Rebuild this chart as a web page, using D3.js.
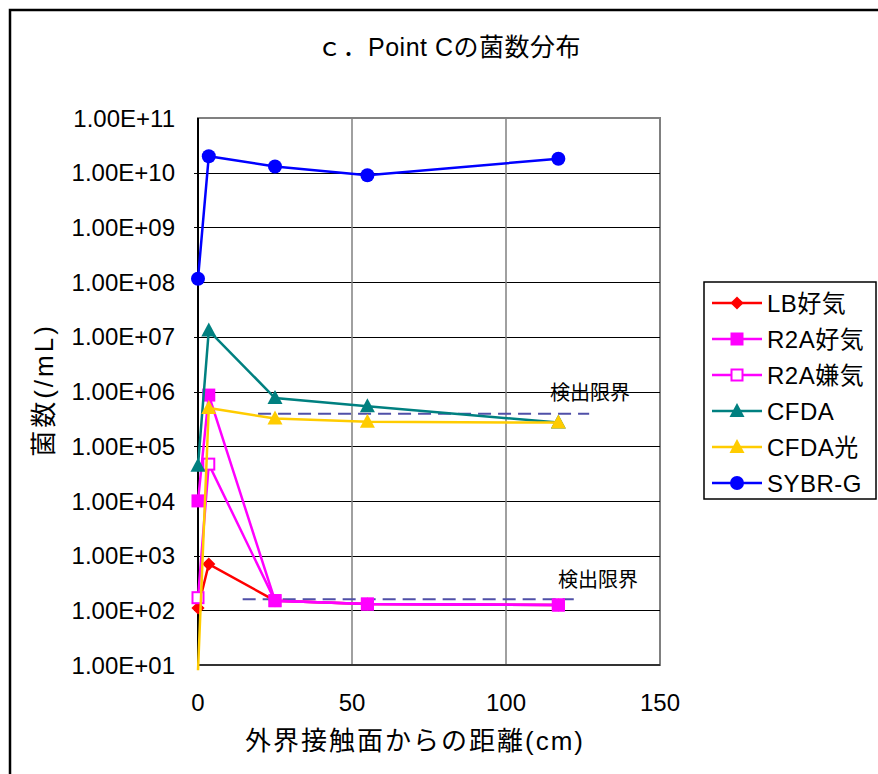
<!DOCTYPE html>
<html>
<head>
<meta charset="utf-8">
<script src="https://cdn.jsdelivr.net/npm/d3@7"></script>
<style>
  body { margin: 0; background: #fff; }
  text { font-family: 'Liberation Sans', Arial, 'Noto Sans CJK JP', sans-serif; }
</style>
</head>
<body>
<script>
// variables:
var w = 878
var h = 774
var margin = { left: 198, top: 118, right: 218, bottom: 109 }

// data
var distances = [0, 3.5, 25, 55, 117]
var lbAerobic = [110, 700, 150, 130, 125]
var r2aAerobic = [10000, 860000, 150, 130, 125]
var r2aAnaerobic = [170, 47000, 150, 130, 125]
var cfda = [44000, 13000000, 760000, 540000, 270000]
var cfdaLight = [8, 500000, 320000, 280000, 270000]
var sybrG = [115000000, 20000000000, 13000000000, 9000000000, 18000000000]

var seriesNames = ['LB好気', 'R2A好気', 'R2A嫌気', 'CFDA', 'CFDA光', 'SYBR-G']
var seriesValues = [lbAerobic, r2aAerobic, r2aAnaerobic, cfda, cfdaLight, sybrG]
var seriesColors = ['#ff0000', '#ff00ff', '#ff00ff', '#008080', '#ffcc00', '#0000ff']
var seriesMarkers = ['diamond', 'square', 'squareOpen', 'triangle', 'triangle', 'circle']
// drawing order (filled R2A squares sit on top of the open ones)
var drawOrder = [0, 2, 1, 3, 4, 5]

var yTicks = [1e1, 1e2, 1e3, 1e4, 1e5, 1e6, 1e7, 1e8, 1e9, 1e10, 1e11]
var xTicks = [0, 50, 100, 150]

// detection limits: [value, xStart, xEnd]
var limitUpper = [390000, 19.5, 127]
var limitLower = [160, 14.5, 122]
var limitLabel = '検出限界'

var svg = d3.select('body')
  .append('svg')
  .attr('width', w)
  .attr('height', h)

// outer frame
svg.append('rect')
  .attr('x', 10).attr('y', 10)
  .attr('width', 900).attr('height', 800)
  .attr('fill', 'none')
  .attr('stroke', '#000')
  .attr('stroke-width', 2.5)

var pw = w - margin.left - margin.right
var ph = h - margin.top - margin.bottom

var xScale = d3.scaleLinear()
  .domain([0, 150])
  .range([margin.left, margin.left + pw])

var yScale = d3.scaleLog()
  .domain([1e1, 1e11])
  .range([margin.top + ph, margin.top])

// plot area border (top/right grey)
svg.append('rect')
  .attr('x', margin.left).attr('y', margin.top)
  .attr('width', pw).attr('height', ph)
  .attr('fill', 'none')
  .attr('stroke', '#808080')
  .attr('stroke-width', 2)

// horizontal gridlines
svg.append('g')
  .selectAll('line')
  .data(yTicks.slice(1, -1))
  .enter()
  .append('line')
  .attr('x1', margin.left - 4)
  .attr('x2', margin.left + pw)
  .attr('y1', function (d) { return Math.round(yScale(d)) + 0.5 })
  .attr('y2', function (d) { return Math.round(yScale(d)) + 0.5 })
  .attr('stroke', '#000')
  .attr('stroke-width', 1)

// vertical gridlines
svg.append('g')
  .selectAll('line')
  .data(xTicks.slice(1, -1))
  .enter()
  .append('line')
  .attr('x1', function (d) { return xScale(d) })
  .attr('x2', function (d) { return xScale(d) })
  .attr('y1', margin.top)
  .attr('y2', margin.top + ph)
  .attr('stroke', '#808080')
  .attr('stroke-width', 1.5)

// axes lines
svg.append('line')
  .attr('x1', margin.left).attr('x2', margin.left)
  .attr('y1', margin.top).attr('y2', margin.top + ph)
  .attr('stroke', '#000').attr('stroke-width', 2)
svg.append('line')
  .attr('x1', margin.left).attr('x2', margin.left + pw)
  .attr('y1', margin.top + ph).attr('y2', margin.top + ph)
  .attr('stroke', '#333').attr('stroke-width', 2)

// tick labels
svg.append('g')
  .selectAll('text')
  .data(yTicks)
  .enter()
  .append('text')
  .attr('x', 175)
  .attr('y', function (d) { return yScale(d) })
  .attr('dy', '0.36em')
  .attr('text-anchor', 'end')
  .attr('font-size', '24px')
  .text(function (d) { return d.toExponential(2).toUpperCase().replace(/E\+(\d)$/, 'E+0$1') })

svg.append('g')
  .selectAll('text')
  .data(xTicks)
  .enter()
  .append('text')
  .attr('x', function (d) { return xScale(d) })
  .attr('y', 702)
  .attr('dy', '0.36em')
  .attr('text-anchor', 'middle')
  .attr('font-size', '24px')
  .text(function (d) { return d })

// title and axis titles
svg.append('text')
  .attr('x', 449).attr('y', 56)
  .attr('text-anchor', 'middle')
  .attr('font-size', '25px')
  .attr('letter-spacing', '0.5px')
  .text('ｃ．Point Cの菌数分布')

svg.append('text')
  .attr('x', 415).attr('y', 750)
  .attr('text-anchor', 'middle')
  .attr('font-size', '26px')
  .attr('letter-spacing', '2px')
  .text('外界接触面からの距離(cm)')

svg.append('text')
  .attr('transform', 'translate(53,390) rotate(-90)')
  .attr('text-anchor', 'middle')
  .attr('font-size', '26px')
  .attr('letter-spacing', '3px')
  .text('菌数(/mL)')

// detection limit lines
var limits = [limitUpper, limitLower]
svg.append('g')
  .selectAll('line')
  .data(limits)
  .enter()
  .append('line')
  .attr('x1', function (d) { return xScale(d[1]) })
  .attr('x2', function (d) { return xScale(d[2]) })
  .attr('y1', function (d) { return yScale(d[0]) })
  .attr('y2', function (d) { return yScale(d[0]) })
  .attr('stroke', '#5050a8')
  .attr('stroke-width', 2)
  .attr('stroke-dasharray', '13,7')

svg.append('text')
  .attr('x', 590).attr('y', 400)
  .attr('text-anchor', 'middle')
  .attr('font-size', '20px')
  .text(limitLabel)
svg.append('text')
  .attr('x', 598).attr('y', 587)
  .attr('text-anchor', 'middle')
  .attr('font-size', '20px')
  .text(limitLabel)

// marker helper
function drawMarker (g, type, color, cx, cy) {
  if (type === 'diamond') {
    g.append('path')
      .attr('d', d3.symbol().type(d3.symbolDiamond2).size(110)())
      .attr('transform', 'translate(' + cx + ',' + cy + ')')
      .attr('fill', color)
  } else if (type === 'square') {
    g.append('rect')
      .attr('x', cx - 6.5).attr('y', cy - 6.5)
      .attr('width', 13).attr('height', 13)
      .attr('fill', color)
  } else if (type === 'squareOpen') {
    g.append('rect')
      .attr('x', cx - 5.5).attr('y', cy - 5.5)
      .attr('width', 11).attr('height', 11)
      .attr('fill', '#fff')
      .attr('stroke', color)
      .attr('stroke-width', 2)
  } else if (type === 'triangle') {
    g.append('path')
      .attr('d', 'M0,-8L7.5,6L-7.5,6Z')
      .attr('transform', 'translate(' + cx + ',' + cy + ')')
      .attr('fill', color)
  } else {
    g.append('circle')
      .attr('cx', cx).attr('cy', cy)
      .attr('r', 7)
      .attr('fill', color)
  }
}

// series
var line = d3.line()
  .x(function (d) { return xScale(d[0]) })
  .y(function (d) { return yScale(d[1]) })

drawOrder.forEach(function (i) {
  var vals = seriesValues[i]
  var pts = distances.map(function (x, j) { return [x, vals[j]] })
  var g = svg.append('g')
  g.append('path')
    .datum(pts)
    .attr('d', line)
    .attr('fill', 'none')
    .attr('stroke', seriesColors[i])
    .attr('stroke-width', 2.5)
  pts.forEach(function (p) {
    if (p[1] >= 10) drawMarker(g, seriesMarkers[i], seriesColors[i], xScale(p[0]), yScale(p[1]))
  })
})

// legend
var legend = svg.append('g')
legend.append('rect')
  .attr('x', 704).attr('y', 282)
  .attr('width', 172).attr('height', 217)
  .attr('fill', '#fff')
  .attr('stroke', '#000')
  .attr('stroke-width', 1.5)

seriesNames.forEach(function (name, i) {
  var ly = 303 + i * 36
  legend.append('line')
    .attr('x1', 712).attr('x2', 762)
    .attr('y1', ly).attr('y2', ly)
    .attr('stroke', seriesColors[i])
    .attr('stroke-width', 2.5)
  drawMarker(legend, seriesMarkers[i], seriesColors[i], 737, ly)
  legend.append('text')
    .attr('x', 767).attr('y', ly)
    .attr('dy', '0.36em')
    .attr('font-size', '24px')
    .attr('letter-spacing', '0.5px')
    .text(name)
})
</script>
</body>
</html>
